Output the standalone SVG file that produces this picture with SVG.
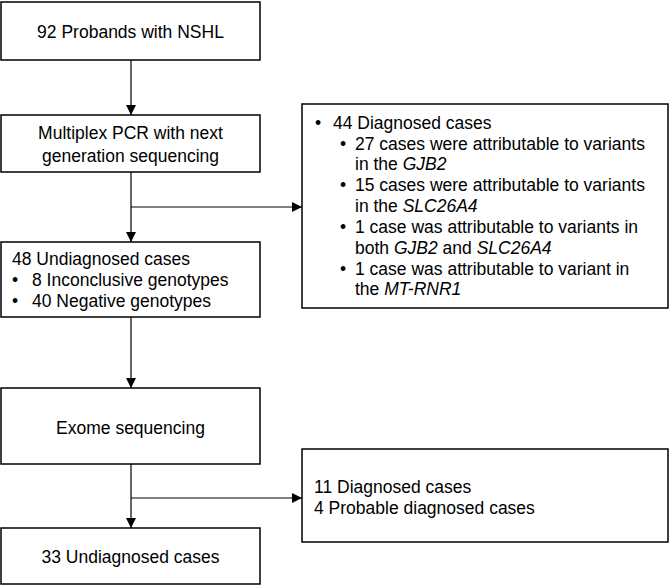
<svg xmlns="http://www.w3.org/2000/svg" width="670" height="585" viewBox="0 0 670 585">
<defs>
<marker id="ah" viewBox="0 0 10 10" refX="10" refY="5" markerWidth="10" markerHeight="10" markerUnits="userSpaceOnUse" orient="auto">
<path d="M0,0 L10,5 L0,10 Z" fill="#000"/>
</marker>
<style>
.box{fill:#fff;stroke:#000;stroke-width:1.5}
.t{font-family:"Liberation Sans",Arial,sans-serif;font-size:17.5px;fill:#000}
.c{text-anchor:middle}
.ln{stroke:#000;stroke-width:1.2;fill:none}
</style>
</defs>
<rect width="670" height="585" fill="#fff"/>
<g id="connectors">
<line class="ln" x1="131" y1="60" x2="131" y2="115" marker-end="url(#ah)"/>
<line class="ln" x1="131" y1="172" x2="131" y2="242" marker-end="url(#ah)"/>
<line class="ln" x1="131" y1="207" x2="302" y2="207" marker-end="url(#ah)"/>
<line class="ln" x1="131" y1="317" x2="131" y2="388" marker-end="url(#ah)"/>
<line class="ln" x1="131" y1="464" x2="131" y2="528" marker-end="url(#ah)"/>
<line class="ln" x1="131" y1="498" x2="302" y2="498" marker-end="url(#ah)"/>
</g>
<g id="n1">
<rect class="box" x="1" y="2" width="259" height="58"/>
<text class="t c" x="130.5" y="38">92 Probands with NSHL</text>
</g>
<g id="n2">
<rect class="box" x="1" y="115" width="259" height="57"/>
<text class="t c" x="130.5" y="139">Multiplex PCR with next</text>
<text class="t c" x="130.5" y="162">generation sequencing</text>
</g>
<g id="n3">
<rect class="box" x="1" y="242" width="259" height="75"/>
<text class="t" x="12" y="265">48 Undiagnosed cases</text>
<text class="t" x="12" y="286">•</text>
<text class="t" x="32" y="286">8 Inconclusive genotypes</text>
<text class="t" x="12" y="307">•</text>
<text class="t" x="32" y="307">40 Negative genotypes</text>
</g>
<g id="n4">
<rect class="box" x="302" y="104" width="366" height="204"/>
<text class="t" x="315" y="129">•</text>
<text class="t" x="333" y="129">44 Diagnosed cases</text>
<text class="t" x="340" y="150">•</text>
<text class="t" x="355" y="150">27 cases were attributable to variants</text>
<text class="t" x="355" y="170">in the <tspan font-style="italic">GJB2</tspan></text>
<text class="t" x="340" y="191">•</text>
<text class="t" x="355" y="191">15 cases were attributable to variants</text>
<text class="t" x="355" y="212">in the <tspan font-style="italic">SLC26A4</tspan></text>
<text class="t" x="340" y="233">•</text>
<text class="t" x="355" y="233">1 case was attributable to variants in</text>
<text class="t" x="355" y="254">both <tspan font-style="italic">GJB2</tspan> and <tspan font-style="italic">SLC26A4</tspan></text>
<text class="t" x="340" y="275">•</text>
<text class="t" x="355" y="275">1 case was attributable to variant in</text>
<text class="t" x="355" y="295">the <tspan font-style="italic">MT-RNR1</tspan></text>
</g>
<g id="n5">
<rect class="box" x="1" y="388" width="259" height="76"/>
<text class="t c" x="130.5" y="434">Exome sequencing</text>
</g>
<g id="n6">
<rect class="box" x="302" y="449" width="366" height="93"/>
<text class="t" x="314" y="493">11 Diagnosed cases</text>
<text class="t" x="314" y="514">4 Probable diagnosed cases</text>
</g>
<g id="n7">
<rect class="box" x="1" y="528" width="259" height="56"/>
<text class="t c" x="130.5" y="563">33 Undiagnosed cases</text>
</g>
</svg>
